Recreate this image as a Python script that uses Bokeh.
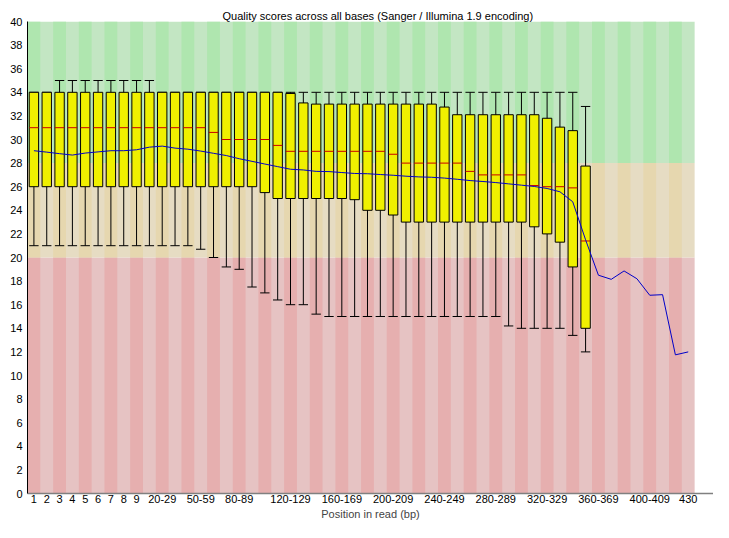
import numpy as np
from bokeh.plotting import figure
from bokeh.models import Range1d, FixedTicker
from bokeh.embed import file_html
from bokeh.resources import INLINE

categories = ["1", "2", "3", "4", "5", "6", "7", "8", "9",
              "10-19", "20-29", "30-39", "40-49", "50-59", "60-69", "70-79", "80-89", "90-99",
              "100-109", "110-119", "120-129", "130-139", "140-149", "150-159", "160-169",
              "170-179", "180-189", "190-199", "200-209", "210-219", "220-229", "230-239",
              "240-249", "250-259", "260-269", "270-279", "280-289", "290-299", "300-309",
              "310-319", "320-329", "330-339", "340-349", "350-359", "360-369", "370-379",
              "380-389", "390-399", "400-409", "410-419", "420-429", "430"]

shown_labels = ["1", "2", "3", "4", "5", "6", "7", "8", "9", "20-29", "50-59", "80-89",
                "120-129", "160-169", "200-209", "240-249", "280-289", "320-329",
                "360-369", "400-409", "430"]

upper_whisker = [34, 34, 35, 35, 35, 35, 35, 35, 35, 35,
                 34, 34, 34, 34, 34, 34, 34, 34, 34, 34,
                 34, 34, 34, 34, 34, 34, 34, 34, 34, 34,
                 34, 34, 34, 34, 34, 34, 34, 34, 34, 34,
                 34, 34, 34, 32.8, 0, 0, 0, 0, 0, 0, 0, 0]
q3 = [34, 34, 34, 34, 34, 34, 34, 34, 34, 34,
      34, 34, 34, 34, 34, 34, 34, 34, 34, 34,
      33.9, 33.1, 33, 33, 33, 33, 33, 33, 33, 33,
      33, 33, 32.75, 32.1, 32.1, 32.1, 32.1, 32.1, 32.1, 32.1,
      31.8, 31.05, 30.75, 27.75, 0, 0, 0, 0, 0, 0, 0, 0]
median = [31, 31, 31, 31, 31, 31, 31, 31, 31, 31,
          31, 31, 31, 31, 30.6, 30, 30, 30, 30, 29.5,
          29, 29, 29, 29, 29, 29, 29, 29, 28.75, 28,
          28, 28, 28, 28, 27.3, 27, 27, 27, 27, 26.1,
          26, 26, 25.9, 21.4, 0, 0, 0, 0, 0, 0, 0, 0]
q1 = [26, 26, 26, 26, 26, 26, 26, 26, 26, 26,
      26, 26, 26, 26, 26, 26, 26, 26, 25.5, 25,
      25, 25, 25, 25, 25, 24.9, 24, 24, 23.6, 23,
      23, 23, 23, 23, 23, 23, 23, 23, 23, 22.6,
      22.0, 21.3, 19.2, 14.0, 0, 0, 0, 0, 0, 0, 0, 0]
lower_whisker = [21, 21, 21, 21, 21, 21, 21, 21, 21, 21,
                 21, 21, 21, 20.7, 20.0, 19.2, 19.0, 17.5, 17.0, 16.4,
                 16.0, 16.0, 15.2, 15, 15, 15, 15, 15, 15, 15,
                 15, 15, 15, 15, 15, 15, 15, 14.2, 14, 14,
                 14, 14, 13.4, 12.0, 0, 0, 0, 0, 0, 0, 0, 0]
mean = [29.05, 28.93, 28.8, 28.68, 28.85, 28.95, 29.05, 29.05, 29.13, 29.35,
        29.44, 29.27, 29.18, 29.02, 28.83, 28.64, 28.37, 28.15, 27.92, 27.7,
        27.48, 27.42, 27.3, 27.28, 27.2, 27.12, 27.1, 27.03, 26.97, 26.89,
        26.83, 26.8, 26.73, 26.63, 26.52, 26.44, 26.35, 26.24, 26.13, 26.02,
        25.85, 25.57, 24.72, 21.5, 18.5, 18.15, 18.86, 18.2, 16.8, 16.85,
        11.75, 12.0]

zone_bottom = [0, 20, 28]
zone_top = [20, 28, 40]
zone_light = ["#e6c3c3", "#e6dcc3", "#c3e6c3"]
zone_dark = ["#e6afaf", "#e6d7af", "#afe6af"]

FONT = "Liberation Sans"

n = len(categories)
x = np.arange(n)
uw = np.array(upper_whisker, dtype=float)
b_top = np.array(q3, dtype=float)
med = np.array(median, dtype=float)
b_bot = np.array(q1, dtype=float)
lw = np.array(lower_whisker, dtype=float)
mn = np.array(mean, dtype=float)

p = figure(width=713, height=522, output_backend="svg", toolbar_location=None,
           x_range=Range1d(-0.5, 52.97), y_range=Range1d(0, 40),
           min_border_left=27, min_border_right=0, min_border_top=21, min_border_bottom=0,
           title="Quality scores across all bases (Sanger / Illumina 1.9 encoding)")
p.title.align = "left"
p.title.offset = 195
p.title.standoff = 0
p.title.text_font = FONT
p.title.text_font_size = "11px"
p.title.text_font_style = "normal"
p.title.text_color = "#000000"
p.outline_line_color = None
p.background_fill_color = "white"
p.border_fill_color = "white"
p.xgrid.visible = False
p.ygrid.visible = False

# background zones
p.quad(left=-0.5, right=n - 0.5, bottom=zone_bottom, top=zone_top,
       fill_color=zone_light, line_color=None)
even = x[x % 2 == 0]
for zb, zt, zc in zip(zone_bottom, zone_top, zone_dark):
    p.quad(left=even - 0.5, right=even + 0.5, bottom=zb, top=zt,
           fill_color=zc, line_color=None)

hw = 0.365
m = uw > 0
# whiskers
p.segment(x0=x[m], y0=lw[m], x1=x[m], y1=uw[m], line_color="black", line_width=1)
p.segment(x0=x[m] - hw, y0=uw[m], x1=x[m] + hw, y1=uw[m], line_color="black", line_width=1)
p.segment(x0=x[m] - hw, y0=lw[m], x1=x[m] + hw, y1=lw[m], line_color="black", line_width=1)
# boxes
p.quad(left=x[m] - hw, right=x[m] + hw, bottom=b_bot[m], top=b_top[m],
       fill_color="#f0f000", line_color="black", line_width=1)
# medians
p.segment(x0=x - hw, y0=med, x1=x + hw, y1=med, line_color="#c80000", line_width=1)
# mean
p.line(x, mn, line_color="#0000c8", line_width=1)

tick_idx = [categories.index(s) for s in shown_labels]
p.xaxis.ticker = FixedTicker(ticks=tick_idx)
p.xaxis.major_label_overrides = {i: categories[i] for i in tick_idx}
p.xaxis.axis_label = "Position in read (bp)"
p.xaxis.axis_label_text_font = FONT
p.xaxis.axis_label_text_font_size = "11px"
p.xaxis.axis_label_text_font_style = "normal"
p.xaxis.axis_label_standoff = 2
p.xaxis.major_label_standoff = 1
p.xaxis.axis_line_color = "#808080"
p.xaxis.axis_line_width = 1.5

p.yaxis.ticker = FixedTicker(ticks=list(range(0, 41, 2)))
p.yaxis.axis_line_color = "black"
p.yaxis.axis_line_width = 1
p.yaxis.major_label_standoff = 5

for ax in (p.xaxis, p.yaxis):
    ax.major_tick_line_color = None
    ax.minor_tick_line_color = None
    ax.major_tick_out = 0
    ax.major_tick_in = 0
    ax.minor_tick_out = 0
    ax.major_label_text_font = FONT
    ax.major_label_text_font_size = "11px"
    ax.major_label_text_color = "#000000"

open("out.html", "w").write(file_html(p, INLINE))
